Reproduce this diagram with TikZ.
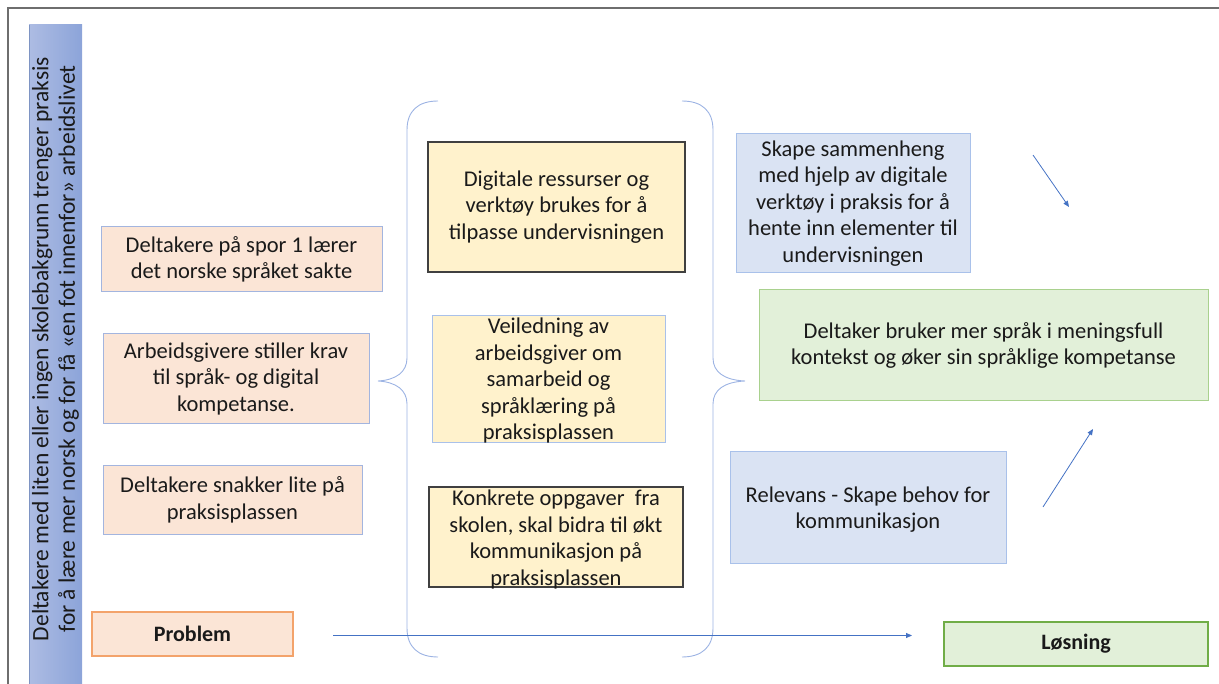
\documentclass[tikz,border=0pt]{standalone}
\usepackage{fontspec}
\setmainfont{Carlito}
\usetikzlibrary{arrows.meta}
\definecolor{peach}{HTML}{FBE5D6}
\definecolor{peachline}{HTML}{A3B5DF}
\definecolor{orangeline}{HTML}{F3A36B}
\definecolor{yel}{HTML}{FFF2CC}
\definecolor{darkline}{HTML}{404040}
\definecolor{bluefill}{HTML}{DAE3F3}
\definecolor{blueline}{HTML}{A9C1EA}
\definecolor{greenfill}{HTML}{E2F0D9}
\definecolor{greenline}{HTML}{A9D18E}
\definecolor{greenstrong}{HTML}{70AD47}
\definecolor{arrowblue}{HTML}{4472C4}
\definecolor{bracecol}{HTML}{9CB3E3}
\definecolor{barleft}{HTML}{ADBCE3}
\definecolor{barright}{HTML}{8CA4D9}
\definecolor{framecol}{HTML}{6E6E6E}
\definecolor{txtcol}{HTML}{1A1A1A}
\tikzset{
  boxbase/.style={rectangle, inner sep=0pt, line width=1pt},
  pbox/.style={boxbase, fill=peach, draw=peachline},
  probbox/.style={boxbase, fill=peach, draw=orangeline, line width=1.3pt},
  ybox/.style={boxbase, fill=yel, draw=darkline, line width=1.4pt},
  yboxb/.style={boxbase, fill=yel, draw=blueline},
  bbox/.style={boxbase, fill=bluefill, draw=blueline},
  gbox/.style={boxbase, fill=greenfill, draw=greenline},
  solbox/.style={boxbase, fill=greenfill, draw=greenstrong, line width=1.3pt},
  txt/.style={inner sep=0pt, align=center, text=txtcol, font=\fontsize{22.5}{26.5}\selectfont},
  arr/.style={draw=arrowblue, line width=0.8pt, -{Triangle[length=6pt,width=5pt]}},
  bracestyle/.style={draw=bracecol, line width=0.9pt},
}
\begin{document}
\begin{tikzpicture}[x=1pt,y=-1pt]
\useasboundingbox (0,0) rectangle (1219,684);
% frame
\draw[framecol, line width=1.4pt] (8,684) -- (8,8) -- (1219,8);
% left bar
\shade[left color=barleft, right color=barright] (29,25) rectangle (82,684);
\draw[barright!90!black, line width=0.8pt] (29.5,25) -- (29.5,684);
\node[txt, rotate=90, font=\fontsize{23.5}{26.5}\selectfont] (bartext) at (55.5,349)
  {Deltakere med liten eller ingen skolebakgrunn trenger praksis\\for å lære mer norsk og for få «en fot innenfor» arbeidslivet};

% problem boxes
\node[pbox, minimum width=281pt, minimum height=65pt] (b1) at (241.5,259.5) {};
\node[txt] (t1) at (b1) {Deltakere på spor 1 lærer\\det norske språket sakte};
\node[pbox, minimum width=266pt, minimum height=90pt] (b2) at (236,379) {};
\node[txt] (t2) at (b2) {Arbeidsgivere stiller krav\\til språk- og digital\\kompetanse.};
\node[pbox, minimum width=259pt, minimum height=68pt] (b3) at (232.5,500) {};
\node[txt] (t3) at (b3) {Deltakere snakker lite på\\praksisplassen};
\node[probbox, minimum width=201pt, minimum height=44pt] (prob) at (192.5,634) {};
\node[txt, font=\bfseries\fontsize{22}{26.5}\selectfont] (tprob) at (prob) {Problem};

% middle boxes
\node[ybox, minimum width=257pt, minimum height=130pt] (b5) at (556.5,207) {};
\node[txt] (t5) at (b5) {Digitale ressurser og\\verktøy brukes for å\\tilpasse undervisningen};
\node[yboxb, minimum width=233pt, minimum height=127pt] (b6) at (548.5,379.5) {};
\node[txt] (t6) at (548.5,381) {Veiledning av\\arbeidsgiver om\\samarbeid og\\språklæring på\\praksisplassen};
\node[ybox, minimum width=254pt, minimum height=100pt] (b7) at (556,537) {};
\node[txt] (t7) at (556,539.5) {Konkrete oppgaver~ fra\\skolen, skal bidra til økt\\kommunikasjon på\\praksisplassen};

% braces
\coordinate (lbt) at (438,101);
\coordinate (lbtip) at (378,381);
\coordinate (lbb) at (438,657);
\draw[bracestyle] (lbt) .. controls (418,101) and (407,111) .. (407,130) -- (407,358)
  .. controls (407,372) and (396,380) .. (lbtip)
  .. controls (396,382) and (407,390) .. (407,404) -- (407,628)
  .. controls (407,647) and (418,657) .. (lbb);
\coordinate (rbt) at (682,101);
\coordinate (rbtip) at (745,381);
\coordinate (rbb) at (682,657);
\draw[bracestyle] (rbt) .. controls (702,101) and (713,111) .. (713,130) -- (713,358)
  .. controls (713,372) and (724,380) .. (rbtip)
  .. controls (724,382) and (713,390) .. (713,404) -- (713,628)
  .. controls (713,647) and (702,657) .. (rbb);

% right boxes
\node[bbox, minimum width=234pt, minimum height=139pt] (b8) at (853,203.5) {};
\node[txt] (t8) at (b8) {Skape sammenheng\\med hjelp av digitale\\verktøy i praksis for å\\hente inn elementer til\\undervisningen};
\node[gbox, minimum width=449pt, minimum height=111pt] (b9) at (983.5,345.5) {};
\node[txt] (t9) at (b9) {Deltaker bruker mer språk i meningsfull\\kontekst og øker sin språklige kompetanse};
\node[bbox, minimum width=276pt, minimum height=111pt] (b10) at (868,507.5) {};
\node[txt] (t10) at (868,509.5) {Relevans - Skape behov for\\kommunikasjon};
\node[solbox, minimum width=264pt, minimum height=44pt] (sol) at (1076,644) {};
\node[txt, font=\bfseries\fontsize{22}{26.5}\selectfont] (tsol) at (sol) {Løsning};

% arrows
\coordinate (h1) at (333,635.5);
\coordinate (h2) at (912,635.5);
\draw[arr] (h1) -- (h2);
\coordinate (d1) at (1033,155);
\coordinate (d2) at (1069,207);
\draw[arr] (d1) -- (d2);
\coordinate (u1) at (1043,507);
\coordinate (u2) at (1093,429);
\draw[arr] (u1) -- (u2);
\end{tikzpicture}
\end{document}
